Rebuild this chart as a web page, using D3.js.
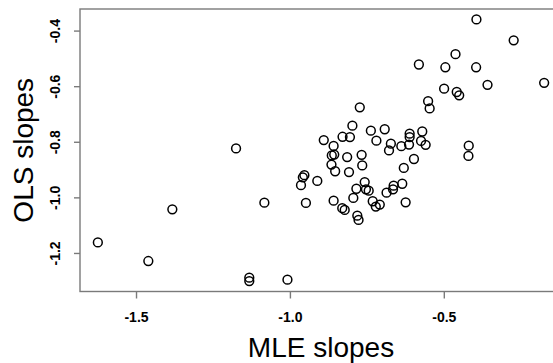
<!DOCTYPE html>
<html>
<head>
<meta charset="utf-8">
<script src="https://cdn.jsdelivr.net/npm/d3@7"></script>
<style>
  body { margin: 0; background: #fff; }
  svg { display: block; font-family: "Liberation Sans", Arial, sans-serif; }
</style>
</head>
<body>
<div id="chart"></div>
<script>
// MLE slope (x) and OLS slope (y) for each fitted group
const mleSlopes = [
  -0.394, -0.273, -0.462, -0.581, -0.495, -0.395, -0.174, -0.358, -0.499, -0.458,
  -0.450, -0.551, -0.546, -0.773, -0.797, -0.737, -0.692, -0.719, -0.672, -0.678,
  -0.638, -0.611, -0.611, -0.613, -0.570, -0.574, -0.559, -0.419, -0.420, -0.597,
  -0.630, -0.767, -0.765, -1.175, -0.829, -0.805, -0.890, -0.858, -0.864, -0.856,
  -0.814, -0.865, -0.853, -0.808, -0.953, -0.958, -0.964, -0.911, -0.757, -0.784,
  -0.753, -0.744, -0.794, -0.731, -0.721, -0.708, -0.686, -0.663, -0.665, -0.635,
  -0.624, -1.083, -0.948, -0.858, -0.830, -0.822, -0.781, -0.777, -1.132, -1.132,
  -1.008, -1.624, -1.460, -1.382
];
const olsSlopes = [
  -0.360, -0.435, -0.485, -0.522, -0.532, -0.532, -0.588, -0.595, -0.609, -0.621,
  -0.633, -0.654, -0.680, -0.676, -0.742, -0.760, -0.755, -0.796, -0.807, -0.831,
  -0.816, -0.771, -0.783, -0.810, -0.763, -0.797, -0.811, -0.814, -0.851, -0.862,
  -0.894, -0.847, -0.885, -0.824, -0.782, -0.783, -0.794, -0.815, -0.849, -0.846,
  -0.855, -0.882, -0.906, -0.909, -0.920, -0.928, -0.956, -0.941, -0.945, -0.969,
  -0.971, -0.976, -1.002, -1.014, -1.033, -1.026, -0.983, -0.958, -0.971, -0.951,
  -1.018, -1.019, -1.020, -1.012, -1.039, -1.045, -1.066, -1.081, -1.289, -1.301,
  -1.296, -1.162, -1.229, -1.043
];
const xTicks = [-1.5, -1.0, -0.5];
const yTicks = [-1.2, -1.0, -0.8, -0.6, -0.4];
const xTitle = 'MLE slopes';
const yTitle = 'OLS slopes';

const width = 553;
const height = 363;
const plot = {left: 80, right: 562, top: 9, bottom: 291.5};

// R style: pad the data range by 4% on each side
function padded(values) {
  const [lo, hi] = d3.extent(values);
  const pad = (hi - lo) * 0.04;
  return [lo - pad, hi + pad];
}

// plain hyphen minus, like R prints it
const fmt = d => d.toFixed(1);

const x = d3.scaleLinear().domain(padded(mleSlopes)).range([plot.left, plot.right]);
const y = d3.scaleLinear().domain(padded(olsSlopes)).range([plot.bottom, plot.top]);

const svg = d3.select('#chart')
  .append('svg')
  .attr('width', width)
  .attr('height', height);

// plot box
svg.append('rect')
  .attr('x', plot.left)
  .attr('y', plot.top)
  .attr('width', plot.right - plot.left)
  .attr('height', plot.bottom - plot.top)
  .attr('fill', 'none')
  .attr('stroke', '#7a7a7a')
  .attr('stroke-width', 1.4);

// x axis
const xAxis = svg.append('g')
  .attr('transform', 'translate(0,' + plot.bottom + ')')
  .call(d3.axisBottom(x)
    .tickValues(xTicks)
    .tickFormat(fmt)
    .tickSize(7)
    .tickPadding(14));
xAxis.select('.domain').remove();
xAxis.selectAll('line').attr('stroke', '#7a7a7a').attr('stroke-width', 1.4);
xAxis.selectAll('text')
  .attr('fill', '#000')
  .style('font-family', '"Liberation Sans", Arial, sans-serif')
  .style('font-size', '14px')
  .style('font-weight', 'bold');

// y axis, labels turned like R's default
const yAxis = svg.append('g')
  .attr('transform', 'translate(' + plot.left + ',0)')
  .call(d3.axisLeft(y)
    .tickValues(yTicks)
    .tickFormat(fmt)
    .tickSize(6));
yAxis.select('.domain').remove();
yAxis.selectAll('line').attr('stroke', '#7a7a7a').attr('stroke-width', 1.4);
yAxis.selectAll('text')
  .attr('x', null)
  .attr('dy', null)
  .attr('transform', 'translate(-20,0) rotate(-90)')
  .attr('text-anchor', 'middle')
  .attr('fill', '#000')
  .style('font-family', '"Liberation Sans", Arial, sans-serif')
  .style('font-size', '14px')
  .style('font-weight', 'bold');

// axis titles
svg.append('text')
  .attr('x', (plot.left + plot.right) / 2)
  .attr('y', 356.5)
  .attr('text-anchor', 'middle')
  .style('font-size', '28px')
  .text(xTitle);

svg.append('text')
  .attr('transform', 'translate(33,' + (plot.top + plot.bottom) / 2 + ') rotate(-90)')
  .attr('text-anchor', 'middle')
  .style('font-size', '28px')
  .text(yTitle);

// points
svg.append('g')
  .selectAll('circle')
  .data(mleSlopes.map((d, i) => [d, olsSlopes[i]]))
  .enter()
  .append('circle')
  .attr('cx', d => x(d[0]))
  .attr('cy', d => y(d[1]))
  .attr('r', 4.4)
  .attr('fill', 'none')
  .attr('stroke', '#000')
  .attr('stroke-width', 1.5);
</script>
</body>
</html>
